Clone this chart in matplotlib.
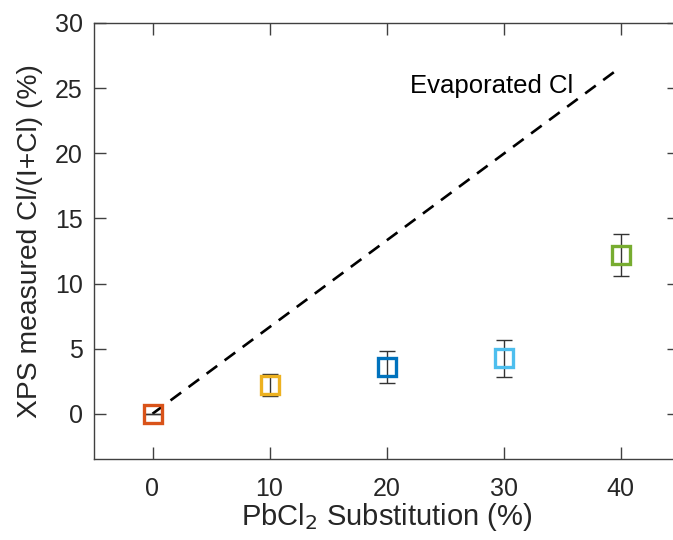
import matplotlib
matplotlib.use("Agg")
import matplotlib.pyplot as plt

plt.rcParams['font.family'] = ['Liberation Sans', 'DejaVu Sans']

# Data
substitution = [0, 10, 20, 30, 40]
cl_measured = [0.0, 2.2, 3.6, 4.25, 12.2]
cl_error = [0.0, 0.85, 1.2, 1.45, 1.62]
point_colors = ['#D95319', '#EDB120', '#0072BD', '#4DBEEE', '#77AC30']
evap_x = [0, 40]
evap_y = [0, 26.6]
x_ticks = [0, 10, 20, 30, 40]
y_ticks = [0, 5, 10, 15, 20, 25, 30]

fig = plt.figure(figsize=(6.73, 5.40), dpi=100)
ax = fig.add_axes([94/673, 1 - 458.7/540, (679-94)/673, (458.7-23)/540])

ax.plot(evap_x, evap_y, color='black', lw=1.9, dashes=(5, 3.5), zorder=2)

for x, y, e, c in zip(substitution, cl_measured, cl_error, point_colors):
    ax.errorbar([x], [y], yerr=[e], fmt='none', ecolor='#333333', elinewidth=1.0,
                capsize=6, capthick=1.0, zorder=3)
    ax.plot([x], [y], marker='s', ms=12.5, mfc='none', mec=c, mew=2.4,
            linestyle='none', zorder=4)

ax.text(22.0, 25.2, 'Evaporated Cl', fontsize=18.5, color='black', va='center', ha='left')

ax.set_xlim(-5, 45)
ax.set_ylim(-3.45, 30)
ax.set_xticks(x_ticks)
ax.set_yticks(y_ticks)
ax.tick_params(direction='in', length=8.5, width=1.0, colors='#404040',
               labelcolor='#262626', labelsize=18, top=True, right=True)
ax.tick_params(axis='x', pad=13)
ax.tick_params(axis='y', pad=8)
for s in ax.spines.values():
    s.set_color('#404040')
    s.set_linewidth(1.0)

ax.set_xlabel('PbCl$_2$ Substitution (%)', fontsize=21, color='#262626', labelpad=0)
ax.set_ylabel('XPS measured Cl/(I+Cl) (%)', fontsize=20.3, color='#262626')
ax.yaxis.set_label_coords(-0.088, 0.50)

fig.savefig('out.png', dpi=100)
